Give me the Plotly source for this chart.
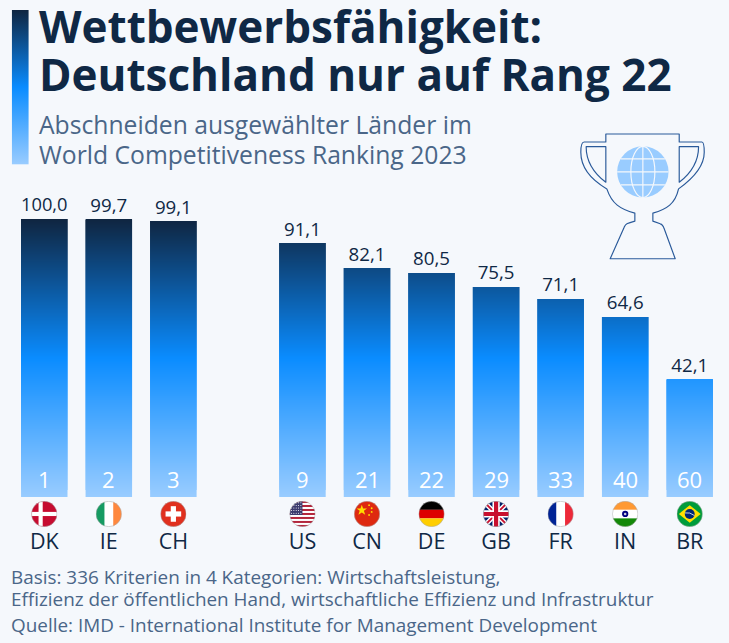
import base64
import plotly.graph_objects as go

categories = ["DK", "IE", "CH", " ", "US", "CN", "DE", "GB", "FR", "IN", "BR"]
countries = ["DK", "IE", "CH", "US", "CN", "DE", "GB", "FR", "IN", "BR"]
scores = [100.0, 99.7, 99.1, 91.1, 82.1, 80.5, 75.5, 71.1, 64.6, 42.1]
ranks = [1, 2, 3, 9, 21, 22, 29, 33, 40, 60]

title_lines = ["Wettbewerbsfähigkeit:", "Deutschland nur auf Rang 22"]
subtitle_lines = ["Abschneiden ausgewählter Länder im", "World Competitiveness Ranking 2023"]
footer_lines = [
    "Basis: 336 Kriterien in 4 Kategorien: Wirtschaftsleistung,",
    "Effizienz der öffentlichen Hand, wirtschaftliche Effizienz und Infrastruktur",
    "Quelle: IMD - International Institute for Management Development",
]

W, H = 729, 643
L, R, T, B = 12.25, 721.75, 218.5, 497.0
FONT = "Open Sans"
BG = "#f5f8fc"
NAVY = "#0f2845"
SLATE = "#4a6688"
STOPS = [(0.0, (15, 37, 64)), (0.5, (10, 140, 255)), (1.0, (153, 204, 255))]


def grad(v):
    t = 1 - v / 100
    for (a, ca), (b, cb) in zip(STOPS, STOPS[1:]):
        if t <= b:
            f = (t - a) / (b - a)
            c = [round(x + (y - x) * f) for x, y in zip(ca, cb)]
            return f"rgb({c[0]},{c[1]},{c[2]})"
    return "rgb(153,204,255)"


def uri(svg):
    return "data:image/svg+xml;base64," + base64.b64encode(svg.encode()).decode()


def px(x):
    return (x - L) / (R - L)


def py(y):
    return (B - y) / (B - T)


# gradient: each bar is cut into thin slices, coloured by height
sx, sb, sh, sc = [], [], [], []
STEP = 0.36
for name, val in zip(countries, scores):
    lvl = 0.0
    while lvl < val:
        h = min(STEP, val - lvl)
        sx.append(name); sb.append(lvl); sh.append(h); sc.append(grad(lvl + h / 2))
        lvl += STEP

fig = go.Figure()
fig.add_bar(x=sx, y=sh, base=sb, width=0.72, marker=dict(color=sc, line_width=0),
            hoverinfo="skip", showlegend=False)
fig.add_bar(x=countries, y=scores, width=0.72, marker=dict(color="rgba(0,0,0,0)", line_width=0),
            text=scores, texttemplate="%{y:.1f}", textposition="outside", cliponaxis=False,
            textfont=dict(family=FONT, size=18.7, color=NAVY), showlegend=False)

anns = []
for name, rk in zip(countries, ranks):
    anns.append(dict(x=categories.index(name), xref="x", y=py(479), yref="paper", yanchor="middle", text=str(rk),
                     showarrow=False, font=dict(family=FONT, size=22, color="white")))


def text_line(txt, x, y, size, color, weight=None):
    t = f"<b>{txt}</b>" if weight else txt
    anns.append(dict(x=px(x), y=py(y), xref="paper", yref="paper", xanchor="left", yanchor="middle",
                     text=t, showarrow=False, font=dict(family=FONT, size=size, color=color),
                     xshift=0, borderpad=0, borderwidth=0))


text_line(title_lines[0], 39.5, 25, 44, NAVY, True)
text_line(title_lines[1], 39.5, 73, 44, NAVY, True)
text_line(subtitle_lines[0], 39.5, 124, 24.7, SLATE)
text_line(subtitle_lines[1], 39.5, 154, 24.7, SLATE)
text_line(footer_lines[0], 11.5, 577.5, 18.9, SLATE)
text_line(footer_lines[1], 11.5, 599.5, 18.9, SLATE)
text_line(footer_lines[2], 11.5, 625.5, 18.9, SLATE)

CLIP = '<defs><clipPath id="c"><circle cx="50" cy="50" r="49"/></clipPath></defs>'


def star(cx, cy, r, fill):
    return f'<circle cx="{cx}" cy="{cy}" r="{r}" fill="{fill}"/>'


def stripes_us():
    s = '<rect width="100" height="100" fill="#fff"/>'
    for i in range(0, 13, 2):
        s += f'<rect y="{i*100/13:.1f}" width="100" height="{100/13:.1f}" fill="#b3263c"/>'
    s += '<rect width="50" height="54" fill="#3c3b6e"/>'
    for r in range(5):
        for c in range(5):
            s += star(8 + c * 9, 7 + r * 10, 2, "#fff")
    return s


FLAGS = {
    "DK": '<rect width="100" height="100" fill="#c60c30"/><rect x="28" width="16" height="100" fill="#fff"/><rect y="42" width="100" height="16" fill="#fff"/>',
    "IE": '<rect width="34" height="100" fill="#169b62"/><rect x="34" width="33" height="100" fill="#fff"/><rect x="67" width="33" height="100" fill="#ff883e"/>',
    "CH": '<rect width="100" height="100" fill="#e0301e"/><rect x="40" y="20" width="20" height="60" fill="#fff"/><rect x="20" y="40" width="60" height="20" fill="#fff"/>',
    "US": stripes_us(),
    "CN": '<rect width="100" height="100" fill="#de2910"/><polygon points="30,14 35,29 50,29 38,38 43,53 30,44 17,53 22,38 10,29 25,29" fill="#ffde00"/>'
          + star(58, 16, 3.5, "#ffde00") + star(68, 28, 3.5, "#ffde00") + star(68, 42, 3.5, "#ffde00") + star(58, 54, 3.5, "#ffde00"),
    "DE": '<rect width="100" height="34" fill="#000"/><rect y="34" width="100" height="33" fill="#dd0000"/><rect y="67" width="100" height="33" fill="#ffce00"/>',
    "GB": '<rect width="100" height="100" fill="#012169"/><path d="M0,0L100,100M100,0L0,100" stroke="#fff" stroke-width="18"/>'
          '<path d="M0,0L100,100M100,0L0,100" stroke="#c8102e" stroke-width="7"/>'
          '<path d="M50,0V100M0,50H100" stroke="#fff" stroke-width="28"/><path d="M50,0V100M0,50H100" stroke="#c8102e" stroke-width="16"/>',
    "FR": '<rect width="34" height="100" fill="#002395"/><rect x="34" width="33" height="100" fill="#fff"/><rect x="67" width="33" height="100" fill="#ed2939"/>',
    "IN": '<rect width="100" height="34" fill="#ff9933"/><rect y="34" width="100" height="33" fill="#fff"/><rect y="67" width="100" height="33" fill="#138808"/>'
          '<circle cx="50" cy="50" r="12" fill="#000080"/><circle cx="50" cy="50" r="5" fill="#ccd"/>',
    "BR": '<rect width="100" height="100" fill="#009c3b"/><polygon points="50,16 92,50 50,84 8,50" fill="#ffdf00"/><circle cx="50" cy="50" r="19" fill="#002776"/>'
          '<path d="M32,46Q50,42 68,56" stroke="#fff" stroke-width="3" fill="none"/>',
}

images = []
for name in countries:
    svg = (f'<svg xmlns="http://www.w3.org/2000/svg" width="100" height="100" viewBox="0 0 100 100">{CLIP}'
           f'<g clip-path="url(#c)">{FLAGS[name]}</g><circle cx="50" cy="50" r="49" fill="none" stroke="#aaa" stroke-width="2"/></svg>')
    images.append(dict(source=uri(svg), xref="x", yref="paper", x=categories.index(name), y=py(501),
                       sizex=26 / 64.5, sizey=26 / (B - T), xanchor="center", yanchor="top", sizing="stretch", layer="above"))

# vertical gradient strip next to the title
strip = ('<svg xmlns="http://www.w3.org/2000/svg" width="17" height="155" viewBox="0 0 17 155">'
         '<defs><linearGradient id="g" x1="0" y1="0" x2="0" y2="1"><stop offset="0" stop-color="#0f2540"/>'
         '<stop offset="0.5" stop-color="#0a8cff"/><stop offset="1" stop-color="#99ccff"/></linearGradient></defs>'
         '<rect width="17" height="155" fill="url(#g)"/></svg>')
images.append(dict(source=uri(strip), xref="paper", yref="paper", x=px(12), y=py(9), sizex=17 / (R - L), sizey=155 / (B - T),
                   xanchor="left", yanchor="top", sizing="stretch", layer="above"))

globe_lines = ('<circle cx="248" cy="154" r="77" fill="#99ccff"/>'
               '<g stroke="#f5f8fc" stroke-width="3.5" fill="none">'
               '<path d="M248,77V231M171,154H325M182,115H314M182,193H314"/>'
               '<ellipse cx="248" cy="154" rx="36" ry="77"/></g>')
trophy = ('<svg xmlns="http://www.w3.org/2000/svg" width="507" height="450" viewBox="0 0 507 450">'
          '<g fill="none" stroke="#2a5a9a" stroke-width="3.5" stroke-linejoin="round">'
          '<path d="M137,40L357,40L357,64L425,64Q432,64 432,95Q432,150 355,205C345,250 320,266 278,278L278,302L300,310'
          'Q308,312 312,325L345,415L150,415L190,325Q195,310 205,308L224,302L224,278C180,266 155,250 140,205'
          'C80,170 62,130 62,95Q62,64 72,64L137,64Z"/>'
          '<path d="M137,78L78,78Q78,140 137,185Z"/><path d="M357,78L415,78Q415,140 357,185Z"/></g>'
          + globe_lines + '</svg>')
images.append(dict(source=uri(trophy), xref="paper", yref="paper", x=px(560), y=py(120), sizex=169 / (R - L), sizey=150 / (B - T),
                   xanchor="left", yanchor="top", sizing="stretch", layer="above"))

fig.update_layout(
    width=W, height=H, barmode="overlay", separators=",.",
    paper_bgcolor=BG, plot_bgcolor=BG, showlegend=False,
    margin=dict(l=L, r=W - R, t=T, b=H - B, pad=0),
    font=dict(family=FONT, color=NAVY),
    annotations=anns, images=images,
    xaxis=dict(type="category", categoryorder="array", categoryarray=categories, range=[-0.5, 10.5],
               tickmode="array", tickvals=countries, ticktext=countries,
               ticks="outside", ticklen=25, tickwidth=0, tickcolor="rgba(0,0,0,0)",
               tickfont=dict(family=FONT, size=21.5, color=NAVY), showline=False, showgrid=False, zeroline=False),
    yaxis=dict(range=[0, 100], visible=False, fixedrange=True),
)

fig.write_html("out.html", config={"displayModeBar": False},
               post_script="document.body.style.margin='0';")
